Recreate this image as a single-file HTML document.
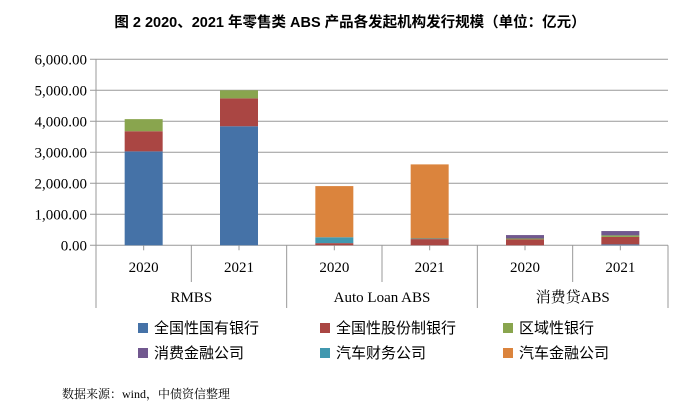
<!DOCTYPE html>
<html><head><meta charset="utf-8"><style>
body{margin:0;background:#fff;width:700px;height:414px;overflow:hidden;font-family:"Liberation Serif","Noto Serif CJK SC",serif}
</style></head><body>
<svg id="chart" width="700" height="414" xmlns="http://www.w3.org/2000/svg">
<text x="350" y="27" text-anchor="middle" font-family="Liberation Sans,Noto Sans CJK SC,sans-serif" font-weight="bold" font-size="14.5" fill="#000">图 2 2020、2021 年零售类 ABS 产品各发起机构发行规模（单位：亿元）</text>
<g id="grid"></g><g id="bars"></g><g id="axes"></g><g id="legend"></g>
<text x="62" y="398" font-size="12" font-family="Liberation Serif,Noto Serif CJK SC,serif" fill="#000">数据来源：wind，中债资信整理</text>
</svg>
<script>
const groups=["RMBS","Auto Loan ABS","消费贷ABS"];
const years=["2020","2021","2020","2021","2020","2021"];
const seriesNames=["全国性国有银行","全国性股份制银行","区域性银行","消费金融公司","汽车财务公司","汽车金融公司"];
const colors=["#4572a7","#aa4643","#89a54e","#71588f","#4198af","#db843d"];
const stateBanks=[3030,3840,0,0,0,30];
const jointBanks=[650,900,70,200,190,240];
const regionalBanks=[390,260,0,0,30,50];
const consumerFin=[0,0,0,0,110,140];
const autoFinance=[0,0,190,20,0,0];
const autoFinCo=[0,0,1650,2390,0,0];
const series=[stateBanks,jointBanks,regionalBanks,consumerFin,autoFinance,autoFinCo];
const yTicks=[0,1000,2000,3000,4000,5000,6000];
const NS="http://www.w3.org/2000/svg";
const x0=96,x1=668,yb=245.3,yt=59.3,ymax=6000;
const catW=(x1-x0)/years.length;
const y=v=>yb-(v/ymax)*(yb-yt);
const cx=i=>x0+catW*(i+0.5);
function mk(p,tag,at){const e=document.createElementNS(NS,tag);for(const k in at)e.setAttribute(k,at[k]);p.appendChild(e);return e;}
const G=document.getElementById('grid'),B=document.getElementById('bars'),A=document.getElementById('axes'),L=document.getElementById('legend');
yTicks.forEach(t=>{
 const l=mk(G,'line',{x1:90,x2:x1,y1:y(t),y2:y(t),stroke:'#999','stroke-width':1});
 
 
 const tx=mk(A,'text',{x:87,y:y(t)+5,'text-anchor':'end','font-size':15,fill:'#000'});
 tx.textContent=t.toLocaleString('en-US',{minimumFractionDigits:2});
 
 
});
const bw=38;
years.forEach((yr,i)=>{
 let acc=0;
 series.forEach((s,k)=>{
  const v=s[i];if(!v)return;
  const r=mk(B,'rect',{x:cx(i)-bw/2,y:y(acc+v),width:bw,height:y(acc)-y(acc+v),fill:colors[k]});
  
  
  acc+=v;
 });
 const t=mk(A,'text',{x:cx(i),y:272,'text-anchor':'middle','font-size':15,fill:'#000'});
 t.textContent=yr;
 
 
 mk(A,'line',{x1:cx(i),x2:cx(i),y1:yb,y2:yb+5,stroke:'#999'});
});
mk(A,'line',{x1:x0,x2:x0,y1:yt,y2:308,stroke:'#999'});
for(let i=1;i<=years.length;i++){
 const xx=x0+catW*i;
 mk(A,'line',{x1:xx,x2:xx,y1:yb,y2:(i%2==0)?308:282,stroke:'#999'});
}
groups.forEach((g,j)=>{
 const t=mk(A,'text',{x:x0+catW*(2*j+1),y:302,'text-anchor':'middle','font-size':15,fill:'#000'});
 t.textContent=g;
 
 
});
const lx=[138,320,503],ly=[328,353];
seriesNames.forEach((n,k)=>{
 const X=lx[k%3],Y=ly[Math.floor(k/3)];
 mk(L,'rect',{x:X,y:Y-5,width:10,height:10,fill:colors[k]});
 const t=mk(L,'text',{x:X+16,y:Y+5,'font-size':15,fill:'#000','font-family':'Liberation Sans,Noto Sans CJK SC,sans-serif'});
 t.textContent=n;
 
 
});
</script>
</body></html>
